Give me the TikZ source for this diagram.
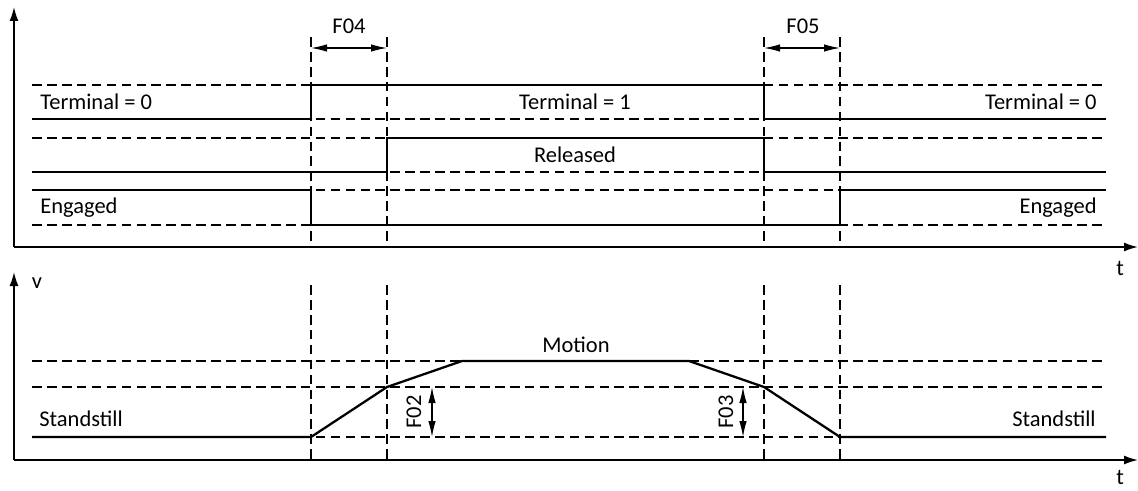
\documentclass[tikz,border=0pt]{standalone}
\usepackage{fontspec}
\setmainfont{Carlito}
\usetikzlibrary{arrows.meta,positioning}

\begin{document}
\begin{tikzpicture}[
    x=0.02cm, y=-0.02cm,
    axis/.style={-{Latex[length=2.8mm,width=1.8mm]}, line width=0.9pt},
    signal/.style={line width=1.3pt},
    guide/.style={dash pattern=on 5.5pt off 3pt, line width=0.7pt},
    dim/.style={{Latex[length=3.2mm,width=1.5mm]}-{Latex[length=3.2mm,width=1.5mm]}, line width=0.7pt},
    lbl/.style={font=\fontsize{12.8}{15}\selectfont, inner sep=0pt},
]
    \useasboundingbox (0,0) rectangle (1138,490);

    % axes
    \coordinate (o1) at (14,247);
    \coordinate (v1) at (14,7);
    \coordinate (t1) at (1138,247);
    \coordinate (o2) at (14,460);
    \coordinate (v2) at (14,272);
    \coordinate (t2) at (1138,460);
    \draw[axis] (o1) -- (v1);
    \draw[axis] (o1) -- (t1);
    \draw[axis] (o2) -- (v2);
    \draw[axis] (o2) -- (t2);
    \node[lbl, anchor=base] (tlab1) at (1120,275) {t};
    \node[lbl, anchor=base] (tlab2) at (1120,484) {t};
    \node[lbl, anchor=base] (vlab) at (37,288) {v};

    % guide lines
    \foreach \y in {85,119,138,172,190,225}
        \draw[guide] (32,\y) -- (1106,\y);
    \foreach \y in {361,387,437}
        \draw[guide] (32,\y) -- (1106,\y);
    \foreach \x in {311,387,764,840} {
        \draw[guide] (\x,37) -- (\x,247);
        \draw[guide] (\x,285) -- (\x,460);
    }

    % signals
    \draw[signal] (32,119) -- (311,119) -- (311,85) -- (764,85) -- (764,119) -- (1106,119);
    \draw[signal] (32,172) -- (387,172) -- (387,138) -- (764,138) -- (764,172) -- (1106,172);
    \draw[signal] (32,190) -- (311,190) -- (311,225) -- (840,225) -- (840,190) -- (1106,190);
    \draw[signal] (32,437) -- (311,437) -- (387,387) -- (462,361) -- (689,361)
        -- (764,387) -- (840,437) -- (1106,437);

    % labels
    \node[lbl, anchor=base west] (term0l) at (40,109) {Terminal = 0};
    \node[lbl, anchor=base] (term1) at (575,109) {Terminal = 1};
    \node[lbl, anchor=base east] (term0r) at (1097,109) {Terminal = 0};
    \node[lbl, anchor=base] (rel) at (575,162) {Released};
    \node[lbl, anchor=base west] (engl) at (40,213) {Engaged};
    \node[lbl, anchor=base east] (engr) at (1097,213) {Engaged};
    \node[lbl, anchor=base] (motion) at (576,352) {Motion};
    \node[lbl, anchor=base west] (standl) at (39,426) {Standstill};
    \node[lbl, anchor=base east] (standr) at (1096,426) {Standstill};

    % times
    \coordinate (f04a) at (311,48);
    \coordinate (f04b) at (387,48);
    \coordinate (f05a) at (764,48);
    \coordinate (f05b) at (840,48);
    \draw[dim] (f04a) -- (f04b);
    \draw[dim] (f05a) -- (f05b);
    \node[lbl, anchor=base] (f04) at (349,33) {F04};
    \node[lbl, anchor=base] (f05) at (803,33) {F05};

    \coordinate (f02a) at (432,387);
    \coordinate (f02b) at (432,437);
    \coordinate (f03a) at (743,387);
    \coordinate (f03b) at (743,437);
    \draw[dim] (f02a) -- (f02b);
    \draw[dim] (f03a) -- (f03b);
    \node[lbl, anchor=base, rotate=90] (f02) at (421,412) {F02};
    \node[lbl, anchor=base, rotate=90] (f03) at (733,412) {F03};
\end{tikzpicture}
\end{document}
